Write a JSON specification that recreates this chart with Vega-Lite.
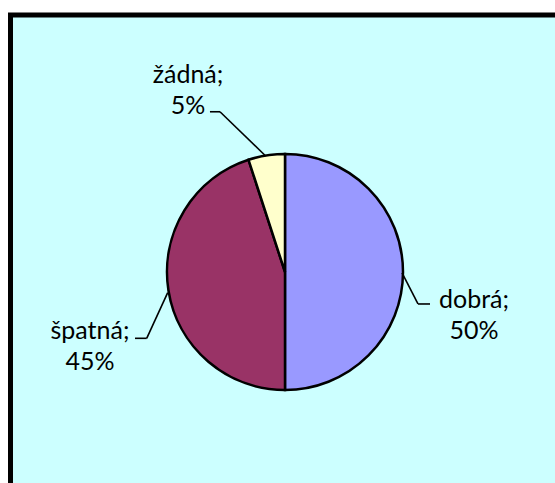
{
  "$schema": "https://vega.github.io/schema/vega-lite/v6.json",
  "width": 549,
  "height": 514,
  "autosize": "none",
  "padding": {"left": 10.5, "top": 15, "right": 0, "bottom": 0},
  "background": "white",
  "config": {
    "view": {"fill": "#CCFFFF", "stroke": "black", "strokeWidth": 5},
    "text": {"font": "Lato"}
  },
  "datasets": {
    "podily": [
      {"kategorie": "dobrá", "podil": 50},
      {"kategorie": "špatná", "podil": 45},
      {"kategorie": "žádná", "podil": 5}
    ]
  },
  "data": {"name": "podily"},
  "layer": [
    {
      "mark": {"type": "arc", "radius": 118, "stroke": "black", "strokeWidth": 2.5},
      "encoding": {
        "theta": {"field": "podil", "type": "quantitative", "stack": true},
        "color": {"field": "kategorie", "type": "nominal", "scale": {"domain": ["dobrá", "špatná", "žádná"], "range": ["#9999FF", "#993366", "#FFFFCC"]}, "legend": null}
      }
    },
    {
      "data": {"values": [{}]},
      "mark": {"type": "rule", "color": "black", "strokeWidth": 1.6},
      "encoding": {
        "x": {"datum": 0.992, "type": "quantitative", "scale": {"domain": [-2.3263, 2.3263], "nice": false, "zero": false}, "axis": null},
        "y": {"datum": -0.008, "type": "quantitative", "scale": {"domain": [-2.178, 2.178], "nice": false, "zero": false}, "axis": null},
        "x2": {"datum": 1.127},
        "y2": {"datum": -0.271}
      }
    },
    {
      "data": {"values": [{}]},
      "mark": {"type": "rule", "color": "black", "strokeWidth": 1.6},
      "encoding": {
        "x": {"datum": 1.127, "type": "quantitative", "scale": {"domain": [-2.3263, 2.3263], "nice": false, "zero": false}, "axis": null},
        "y": {"datum": -0.271, "type": "quantitative", "scale": {"domain": [-2.178, 2.178], "nice": false, "zero": false}, "axis": null},
        "x2": {"datum": 1.229},
        "y2": {"datum": -0.271}
      }
    },
    {
      "data": {"values": [{}]},
      "mark": {"type": "rule", "color": "black", "strokeWidth": 1.6},
      "encoding": {
        "x": {"datum": -0.994, "type": "quantitative", "scale": {"domain": [-2.3263, 2.3263], "nice": false, "zero": false}, "axis": null},
        "y": {"datum": -0.175, "type": "quantitative", "scale": {"domain": [-2.178, 2.178], "nice": false, "zero": false}, "axis": null},
        "x2": {"datum": -1.172},
        "y2": {"datum": -0.562}
      }
    },
    {
      "data": {"values": [{}]},
      "mark": {"type": "rule", "color": "black", "strokeWidth": 1.6},
      "encoding": {
        "x": {"datum": -1.172, "type": "quantitative", "scale": {"domain": [-2.3263, 2.3263], "nice": false, "zero": false}, "axis": null},
        "y": {"datum": -0.562, "type": "quantitative", "scale": {"domain": [-2.178, 2.178], "nice": false, "zero": false}, "axis": null},
        "x2": {"datum": -1.271},
        "y2": {"datum": -0.562}
      }
    },
    {
      "data": {"values": [{}]},
      "mark": {"type": "rule", "color": "black", "strokeWidth": 1.6},
      "encoding": {
        "x": {"datum": -0.164, "type": "quantitative", "scale": {"domain": [-2.3263, 2.3263], "nice": false, "zero": false}, "axis": null},
        "y": {"datum": 0.983, "type": "quantitative", "scale": {"domain": [-2.178, 2.178], "nice": false, "zero": false}, "axis": null},
        "x2": {"datum": -0.551},
        "y2": {"datum": 1.358}
      }
    },
    {
      "data": {"values": [{}]},
      "mark": {"type": "rule", "color": "black", "strokeWidth": 1.6},
      "encoding": {
        "x": {"datum": -0.551, "type": "quantitative", "scale": {"domain": [-2.3263, 2.3263], "nice": false, "zero": false}, "axis": null},
        "y": {"datum": 1.358, "type": "quantitative", "scale": {"domain": [-2.178, 2.178], "nice": false, "zero": false}, "axis": null},
        "x2": {"datum": -0.636},
        "y2": {"datum": 1.358}
      }
    },
    {
      "transform": [
        {"filter": "datum.kategorie == 'dobrá'"},
        {"calculate": "datum.kategorie + ';\\n' + datum.podil + '%'", "as": "stitek"}
      ],
      "mark": {"type": "text", "font": "Lato", "fontSize": 25, "lineBreak": "\n", "lineHeight": 31, "align": "center", "baseline": "middle", "color": "black"},
      "encoding": {
        "x": {"datum": 1.602, "type": "quantitative", "scale": {"domain": [-2.3263, 2.3263], "nice": false, "zero": false}, "axis": null},
        "y": {"datum": -0.237, "type": "quantitative", "scale": {"domain": [-2.178, 2.178], "nice": false, "zero": false}, "axis": null},
        "text": {"field": "stitek", "type": "nominal"}
      }
    },
    {
      "transform": [
        {"filter": "datum.kategorie == 'špatná'"},
        {"calculate": "datum.kategorie + ';\\n' + datum.podil + '%'", "as": "stitek"}
      ],
      "mark": {"type": "text", "font": "Lato", "fontSize": 25, "lineBreak": "\n", "lineHeight": 31, "align": "center", "baseline": "middle", "color": "black"},
      "encoding": {
        "x": {"datum": -1.653, "type": "quantitative", "scale": {"domain": [-2.3263, 2.3263], "nice": false, "zero": false}, "axis": null},
        "y": {"datum": -0.5, "type": "quantitative", "scale": {"domain": [-2.178, 2.178], "nice": false, "zero": false}, "axis": null},
        "text": {"field": "stitek", "type": "nominal"}
      }
    },
    {
      "transform": [
        {"filter": "datum.kategorie == 'žádná'"},
        {"calculate": "datum.kategorie + ';\\n' + datum.podil + '%'", "as": "stitek"}
      ],
      "mark": {"type": "text", "font": "Lato", "fontSize": 25, "lineBreak": "\n", "lineHeight": 31, "align": "center", "baseline": "middle", "color": "black"},
      "encoding": {
        "x": {"datum": -0.822, "type": "quantitative", "scale": {"domain": [-2.3263, 2.3263], "nice": false, "zero": false}, "axis": null},
        "y": {"datum": 1.669, "type": "quantitative", "scale": {"domain": [-2.178, 2.178], "nice": false, "zero": false}, "axis": null},
        "text": {"field": "stitek", "type": "nominal"}
      }
    }
  ]
}
